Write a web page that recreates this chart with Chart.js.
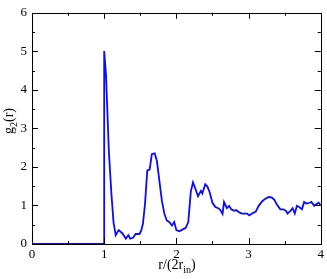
<!DOCTYPE html>
<html>
<head>
<meta charset="utf-8">
<script src="https://cdn.jsdelivr.net/npm/chart.js@4/dist/chart.umd.min.js"></script>
<style>
  html, body { margin: 0; padding: 0; background: #fff; }
  #wrap { position: relative; width: 327px; height: 279px; }
  .axis-title { position: absolute; font-family: "Liberation Serif", "Times New Roman", serif; font-size: 14px; color: #000; white-space: nowrap; }
  .axis-title sub { font-size: 10px; }
  #ytitle { left: 10px; top: 121px; transform: translate(-50%, -50%) rotate(-90deg); }
  #xtitle { left: 177px; top: 266px; transform: translate(-50%, -50%); }
</style>
</head>
<body>
<div id="wrap">
  <canvas id="gChart" width="327" height="279"></canvas>
  <div class="axis-title" id="ytitle">g<sub>2</sub>(r)</div>
  <div class="axis-title" id="xtitle">r/(2r<sub>in</sub>)</div>
</div>
<script>
const rValues = [0, 1.0, 1.0, 1.025, 1.065, 1.10, 1.13, 1.16, 1.20, 1.25, 1.30, 1.335, 1.36, 1.40, 1.435, 1.49, 1.515, 1.537, 1.565, 1.597, 1.63, 1.66, 1.70, 1.73, 1.766, 1.80, 1.835, 1.867, 1.90, 1.94, 1.97, 2.00, 2.04, 2.09, 2.13, 2.165, 2.20, 2.23, 2.27, 2.30, 2.34, 2.36, 2.40, 2.43, 2.46, 2.50, 2.54, 2.58, 2.61, 2.64, 2.66, 2.70, 2.73, 2.76, 2.80, 2.83, 2.87, 2.91, 2.98, 3.01, 3.05, 3.10, 3.14, 3.19, 3.23, 3.28, 3.32, 3.36, 3.39, 3.44, 3.48, 3.52, 3.54, 3.58, 3.61, 3.64, 3.67, 3.70, 3.74, 3.77, 3.80, 3.85, 3.87, 3.91, 3.94, 3.97, 4.00];
const gValues = [0, 0, 5.01, 4.4, 2.4, 1.3, 0.55, 0.23, 0.36, 0.28, 0.14, 0.23, 0.14, 0.16, 0.26, 0.26, 0.36, 0.53, 1.03, 1.91, 1.93, 2.33, 2.35, 2.16, 1.62, 1.11, 0.78, 0.61, 0.57, 0.48, 0.57, 0.36, 0.33, 0.38, 0.42, 0.57, 1.36, 1.60, 1.40, 1.24, 1.38, 1.31, 1.55, 1.49, 1.35, 1.07, 0.96, 0.93, 0.88, 0.78, 1.09, 0.93, 0.99, 0.90, 0.86, 0.88, 0.82, 0.79, 0.79, 0.74, 0.79, 0.84, 0.99, 1.11, 1.17, 1.22, 1.21, 1.14, 1.03, 0.90, 0.90, 0.86, 0.79, 0.86, 0.93, 0.79, 0.99, 0.96, 0.90, 1.09, 1.05, 1.07, 1.09, 0.99, 1.03, 1.07, 1.01];
const xTicks = [0, 1, 2, 3, 4];
const yTicks = [0, 1, 2, 3, 4, 5, 6];

const points = rValues.map((r, i) => ({ x: r, y: gValues[i] }));

// frame plus inward major/minor ticks on all four sides
const frameTicks = {
  id: "frameTicks",
  afterDatasetsDraw(chart) {
    const { ctx, chartArea: a, scales: { x, y } } = chart;
    ctx.save();
    ctx.strokeStyle = "#000";
    ctx.lineWidth = 1;
    ctx.beginPath();
    for (let v = 0; v <= 4.001; v += 0.5) {
      const px = Math.round(x.getPixelForValue(v)) + 0.5;
      const len = Number.isInteger(v) ? 6 : 3;
      ctx.moveTo(px, a.bottom); ctx.lineTo(px, a.bottom - len);
      ctx.moveTo(px, a.top); ctx.lineTo(px, a.top + len);
    }
    for (let v = 0; v <= 6.001; v += 0.5) {
      const py = Math.round(y.getPixelForValue(v)) + 0.5;
      const len = Number.isInteger(v) ? 6 : 3;
      ctx.moveTo(a.left, py); ctx.lineTo(a.left + len, py);
      ctx.moveTo(a.right, py); ctx.lineTo(a.right - len, py);
    }
    ctx.stroke();
    ctx.strokeRect(Math.round(a.left) + 0.5, Math.round(a.top) + 0.5, Math.round(a.right - a.left), Math.round(a.bottom - a.top));
    ctx.restore();
  },
};

const tickFont = { family: "'Liberation Serif', 'Times New Roman', serif", size: 13 };

new Chart(document.getElementById("gChart"), {
  type: "scatter",
  data: {
    datasets: [{
      data: points,
      showLine: true,
      borderColor: "#0a0aff",
      borderWidth: 1.8,
      pointRadius: 0,
      tension: 0,
    }],
  },
  options: {
    responsive: false,
    animation: false,
    layout: { padding: { top: 5, right: 4, left: 0, bottom: 0 } },
    plugins: { legend: { display: false }, tooltip: { enabled: false } },
    scales: {
      x: {
        type: "linear", min: 0, max: 4,
        afterBuildTicks: (s) => { s.ticks = xTicks.map((v) => ({ value: v })); },
        afterFit: (s) => { s.height = 35; },
        grid: { display: false, drawTicks: false },
        border: { display: false },
        ticks: { color: "#000", font: tickFont, padding: 3, maxRotation: 0 },
      },
      y: {
        type: "linear", min: 0, max: 6,
        afterBuildTicks: (s) => { s.ticks = yTicks.map((v) => ({ value: v })); },
        afterFit: (s) => { s.width = 32; },
        grid: { display: false, drawTicks: false },
        border: { display: false },
        ticks: { color: "#000", font: tickFont, padding: 5 },
      },
    },
  },
  plugins: [frameTicks],
});
</script>
</body>
</html>
